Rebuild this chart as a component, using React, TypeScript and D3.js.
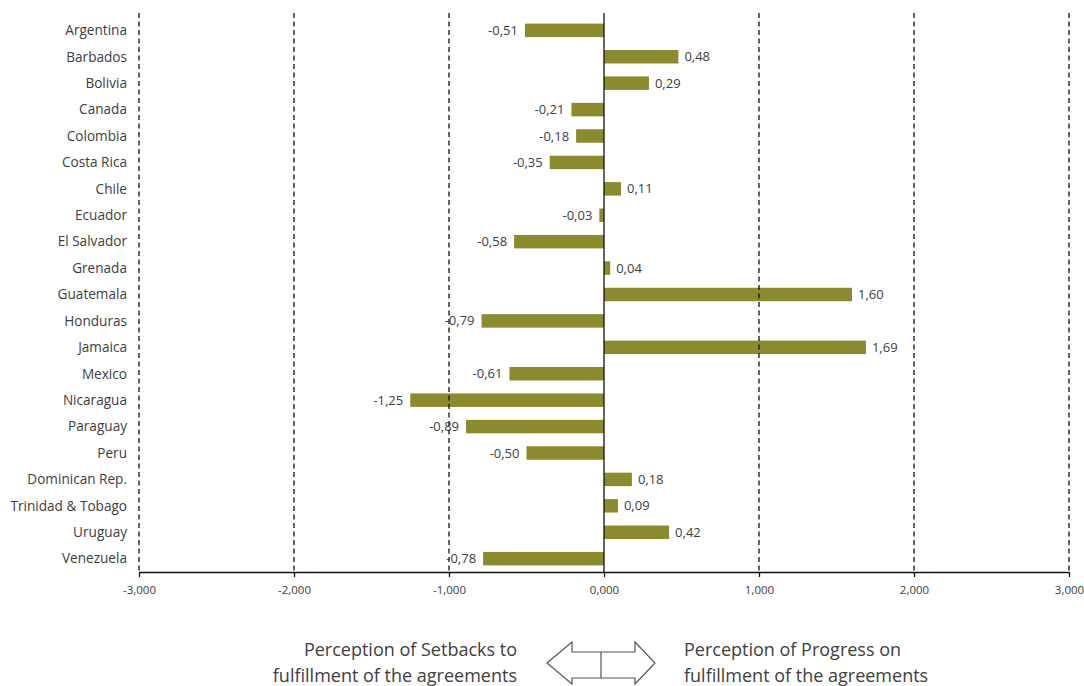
import React, { useEffect, useRef } from 'react';
import * as d3 from 'd3';

const countries = [
  'Argentina', 'Barbados', 'Bolivia', 'Canada', 'Colombia', 'Costa Rica', 'Chile',
  'Ecuador', 'El Salvador', 'Grenada', 'Guatemala', 'Honduras', 'Jamaica', 'Mexico',
  'Nicaragua', 'Paraguay', 'Peru', 'Dominican Rep.', 'Trinidad & Tobago', 'Uruguay', 'Venezuela'
];
const scores = [
  -0.51, 0.48, 0.29, -0.21, -0.18, -0.35, 0.11,
  -0.03, -0.58, 0.04, 1.60, -0.79, 1.69, -0.61,
  -1.25, -0.89, -0.50, 0.18, 0.09, 0.42, -0.78
];
const xTicks = [-3, -2, -1, 0, 1, 2, 3];
const leftCaption = ['Perception of Setbacks to', 'fulfillment of the agreements'];
const rightCaption = ['Perception of Progress on', 'fulfillment of the agreements'];

const FONT = '"Open Sans", sans-serif';
const BAR = '#8b8b2d';
const TEXT = '#404040';

// European style numbers: comma decimal, plain hyphen for negatives
const comma = (fmt: string) => (v: number) => d3.format(fmt)(v).replace('.', ',').replace('\u2212', '-');

const App: React.FC = () => {
  const svgRef = useRef<SVGSVGElement>(null);

  useEffect(() => {
    if (!svgRef.current) return;
    document.body.style.margin = '0';

    const width = 1084;
    const height = 686;
    const top = 13;
    const axisY = 572;

    const svg = d3.select(svgRef.current);
    svg.selectAll('*').remove();
    svg.attr('width', width).attr('height', height);

    const x = d3.scaleLinear().domain([-3, 3]).range([139, 1069]);
    const y = d3.scaleBand<string>().domain(countries).range([17, axisY]).paddingInner(0.49).paddingOuter(0.25);

    const data = countries.map((c, i) => ({ name: c, value: scores[i] }));

    // bars
    svg.append('g')
      .selectAll('rect')
      .data(data)
      .enter()
      .append('rect')
      .attr('x', d => x(Math.min(0, d.value)))
      .attr('y', d => y(d.name)!)
      .attr('width', d => Math.abs(x(d.value) - x(0)))
      .attr('height', y.bandwidth())
      .attr('fill', BAR);

    // dashed gridlines (on top of bars)
    svg.append('g')
      .selectAll('line')
      .data(xTicks.filter(t => t !== 0))
      .enter()
      .append('line')
      .attr('x1', d => x(d)).attr('x2', d => x(d))
      .attr('y1', top).attr('y2', axisY)
      .attr('stroke', '#111')
      .attr('stroke-width', 1.3)
      .attr('stroke-dasharray', '5,3.5');

    // zero line
    svg.append('line')
      .attr('x1', x(0)).attr('x2', x(0))
      .attr('y1', top).attr('y2', axisY)
      .attr('stroke', '#111')
      .attr('stroke-width', 1.3);

    // value labels
    svg.append('g')
      .selectAll('text')
      .data(data)
      .enter()
      .append('text')
      .attr('x', d => d.value >= 0 ? x(d.value) + 6 : x(d.value) - 7)
      .attr('y', d => y(d.name)! + y.bandwidth() / 2)
      .attr('dy', '0.35em')
      .attr('text-anchor', d => d.value >= 0 ? 'start' : 'end')
      .attr('font-family', FONT)
      .attr('font-size', 13)
      .attr('fill', TEXT)
      .text(d => comma('.2f')(d.value));

    // category labels
    svg.append('g')
      .selectAll('text')
      .data(data)
      .enter()
      .append('text')
      .attr('x', 127)
      .attr('y', d => y(d.name)! + y.bandwidth() / 2)
      .attr('dy', '0.35em')
      .attr('text-anchor', 'end')
      .attr('font-family', FONT)
      .attr('font-size', 13.6)
      .attr('fill', TEXT)
      .text(d => d.name);

    // x axis
    const axis = svg.append('g')
      .attr('transform', `translate(0,${axisY})`)
      .call(d3.axisBottom(x).tickValues(xTicks).tickSize(5).tickSizeOuter(0).tickFormat(d => comma('.3f')(d as number)));
    axis.select('.domain').attr('stroke', '#111').attr('stroke-width', 1.3);
    axis.selectAll('.tick line').attr('stroke', '#111').attr('stroke-width', 1.3);
    axis.selectAll('.tick text')
      .attr('font-family', FONT)
      .attr('font-size', 11.5)
      .attr('fill', TEXT)
      .attr('y', 14);

    // captions
    const cap = svg.append('g').attr('font-family', FONT).attr('font-size', 18).attr('fill', TEXT);
    leftCaption.forEach((t, i) => {
      cap.append('text').attr('x', 517).attr('y', 656 + i * 26).attr('text-anchor', 'end').text(t);
    });
    rightCaption.forEach((t, i) => {
      cap.append('text').attr('x', 684).attr('y', 656 + i * 26).attr('text-anchor', 'start').text(t);
    });

    // double arrow
    const ax0 = 547, ax1 = 655, hb0 = 572, hb1 = 635, cy = 663;
    const pts: [number, number][] = [
      [ax0, cy], [hb0, 642], [hb0, 652], [hb1, 652], [hb1, 642], [ax1, cy],
      [hb1, 684], [hb1, 678], [hb0, 678], [hb0, 684]
    ];
    svg.append('polygon')
      .attr('points', pts.map(p => p.join(',')).join(' '))
      .attr('fill', 'white')
      .attr('stroke', '#555')
      .attr('stroke-width', 1.2);
    svg.append('line')
      .attr('x1', 601).attr('x2', 601).attr('y1', 652).attr('y2', 678)
      .attr('stroke', '#555').attr('stroke-width', 1.2);
  }, []);

  return <svg ref={svgRef} style={{ display: 'block' }}></svg>;
};

export default App;
